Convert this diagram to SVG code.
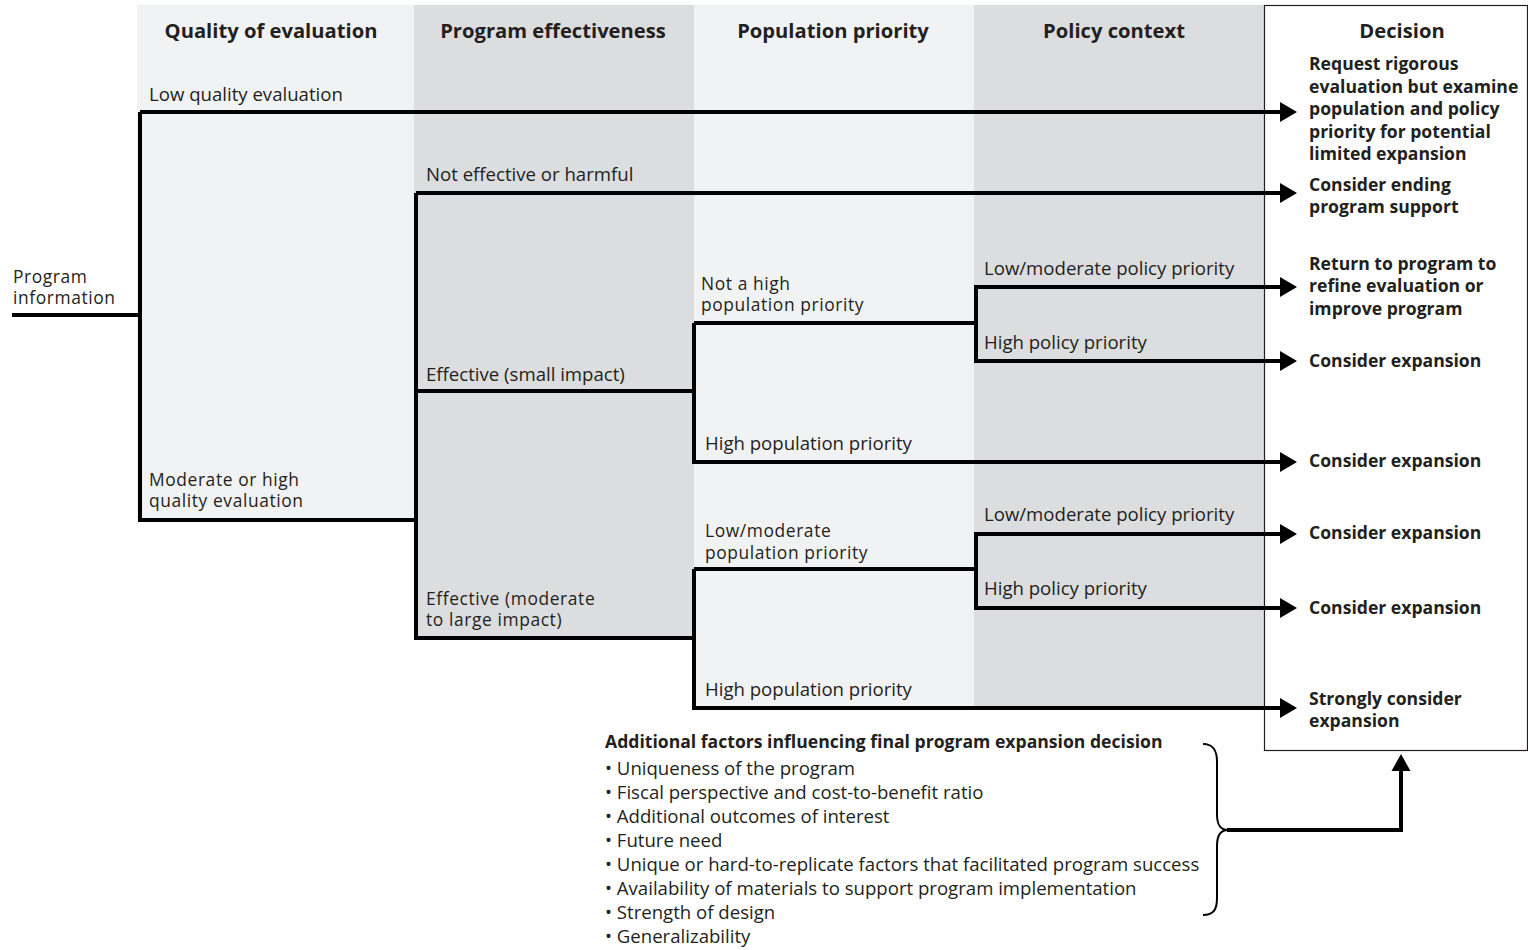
<svg xmlns="http://www.w3.org/2000/svg" width="1528" height="950" viewBox="0 0 1528 950">
<defs>
<style>
text{font-family:"Open Sans","Noto Sans","Liberation Sans",sans-serif;fill:#231f20}
.hd{font-size:20.2px;font-weight:bold;text-anchor:middle}
.lb{font-size:18.6px}
.l2{font-size:17.4px;letter-spacing:0.6px}
.dc{font-size:17.6px;font-weight:bold}
.ft{font-size:18.6px}
.fh{font-size:17.6px;font-weight:bold}
.ln{fill:none;stroke:#000;stroke-width:4}
.ar{fill:none;stroke:#000;stroke-width:4;marker-end:url(#ah)}
.lt{fill:#f1f2f4}
.dk{fill:#dcdddf}
</style>
<marker id="ah" markerUnits="userSpaceOnUse" markerWidth="18" markerHeight="20" refX="1" refY="10" orient="auto" viewBox="0 0 18 20">
<path d="M0,0 L17,10 L0,20 z" fill="#000"/>
</marker>
</defs>
<rect width="1528" height="950" fill="#fff"/>
<g id="columns">
<rect class="lt" x="137" y="5" width="277" height="517"/>
<rect class="dk" x="414" y="5" width="280" height="635"/>
<rect class="lt" x="694" y="5" width="280" height="705"/>
<rect class="dk" x="974" y="5" width="290" height="705"/>
<rect x="1264.5" y="5.5" width="263" height="745" fill="#fff" stroke="#231f20" stroke-width="1.2"/>
</g>
<g id="headers">
<text class="hd" x="271" y="38">Quality of evaluation</text>
<text class="hd" x="553" y="38">Program effectiveness</text>
<text class="hd" x="833" y="38">Population priority</text>
<text class="hd" x="1114" y="38">Policy context</text>
<text class="hd" x="1402" y="38">Decision</text>
</g>
<g id="connectors">
<path class="ln" d="M12,315 H140 M140,112 V520 M138,520 H416 M416,193 V640 M416,391 H694 M414,638 H694 M694,323 V462 M694,323 H976 M976,287 V361 M694,569 V708 M694,569 H976 M976,534 V608"/>
<path class="ar" d="M140,112 H1281"/>
<path class="ar" d="M416,193 H1281"/>
<path class="ar" d="M974,287 H1281"/>
<path class="ar" d="M974,361 H1281"/>
<path class="ar" d="M692,462 H1281"/>
<path class="ar" d="M974,534 H1281"/>
<path class="ar" d="M974,608 H1281"/>
<path class="ar" d="M692,708 H1281"/>
<path d="M1203,744 C1214,744 1217,751 1217,762 L1217,814 C1217,825 1220,830 1228,830 C1220,830 1217,836 1217,846 L1217,898 C1217,909 1214,915 1203,915" fill="none" stroke="#000" stroke-width="2"/>
<path class="ln" d="M1227,830 H1401 V769"/>
<path d="M1391.5,771 L1401,754 L1410.5,771 z" fill="#000"/>
</g>
<g id="start"><text class="l2" x="13" y="283">Program<tspan x="13" y="304">information</tspan></text></g>
<g id="low-quality"><text class="lb" x="149" y="101">Low quality evaluation</text></g>
<g id="mod-quality"><text class="l2" x="149" y="486">Moderate or high<tspan x="149" y="507">quality evaluation</tspan></text></g>
<g id="not-effective"><text class="lb" x="426" y="181">Not effective or harmful</text></g>
<g id="eff-small"><text class="lb" x="426" y="381">Effective (small impact)</text></g>
<g id="eff-large"><text class="l2" x="426" y="605">Effective (moderate<tspan x="426" y="626">to large impact)</tspan></text></g>
<g id="not-high-pop"><text class="l2" x="701" y="290">Not a high<tspan x="701" y="311">population priority</tspan></text></g>
<g id="high-pop-1"><text class="lb" x="705" y="450">High population priority</text></g>
<g id="lowmod-pop"><text class="l2" x="705" y="537">Low/moderate<tspan x="705" y="559">population priority</tspan></text></g>
<g id="high-pop-2"><text class="lb" x="705" y="696">High population priority</text></g>
<g id="lowmod-policy-1"><text class="lb" x="984" y="275">Low/moderate policy priority</text></g>
<g id="high-policy-1"><text class="lb" x="984" y="349">High policy priority</text></g>
<g id="lowmod-policy-2"><text class="lb" x="984" y="521">Low/moderate policy priority</text></g>
<g id="high-policy-2"><text class="lb" x="984" y="595">High policy priority</text></g>
<g id="decision-1"><text class="dc" x="1309" y="70">Request rigorous<tspan x="1309" y="93">evaluation but examine</tspan><tspan x="1309" y="115">population and policy</tspan><tspan x="1309" y="138">priority for potential</tspan><tspan x="1309" y="160">limited expansion</tspan></text></g>
<g id="decision-2"><text class="dc" x="1309" y="191">Consider ending<tspan x="1309" y="213">program support</tspan></text></g>
<g id="decision-3"><text class="dc" x="1309" y="270">Return to program to<tspan x="1309" y="292">refine evaluation or</tspan><tspan x="1309" y="315">improve program</tspan></text></g>
<g id="decision-4"><text class="dc" x="1309" y="367">Consider expansion</text></g>
<g id="decision-5"><text class="dc" x="1309" y="467">Consider expansion</text></g>
<g id="decision-6"><text class="dc" x="1309" y="539">Consider expansion</text></g>
<g id="decision-7"><text class="dc" x="1309" y="614">Consider expansion</text></g>
<g id="decision-8"><text class="dc" x="1309" y="705">Strongly consider<tspan x="1309" y="727">expansion</tspan></text></g>
<g id="factors">
<text class="fh" x="605" y="748">Additional factors influencing final program expansion decision</text>
<text class="ft" x="605" y="775">• Uniqueness of the program<tspan x="605" y="799">• Fiscal perspective and cost-to-benefit ratio</tspan><tspan x="605" y="823">• Additional outcomes of interest</tspan><tspan x="605" y="847">• Future need</tspan><tspan x="605" y="871">• Unique or hard-to-replicate factors that facilitated program success</tspan><tspan x="605" y="895">• Availability of materials to support program implementation</tspan><tspan x="605" y="919">• Strength of design</tspan><tspan x="605" y="943">• Generalizability</tspan></text>
</g>
</svg>
